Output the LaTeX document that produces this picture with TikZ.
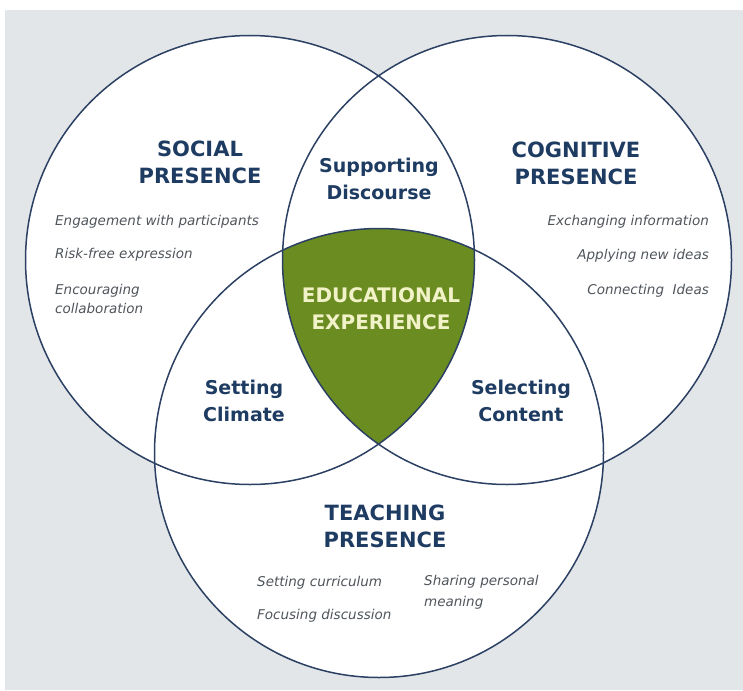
\documentclass[tikz,border=0pt]{standalone}
\usepackage{fontspec}
\setmainfont{DejaVu Sans}
\definecolor{panel}{HTML}{E3E6E9}
\definecolor{ring}{HTML}{2B4062}
\definecolor{navy}{HTML}{1E3B62}
\definecolor{olive}{HTML}{6B8C21}
\definecolor{cream}{HTML}{F2F2C8}
\definecolor{note}{HTML}{50555C}
\begin{document}
\begin{tikzpicture}[x=1pt,y=-1pt,
  heading/.style={font=\fontsize{21}{27}\selectfont\bfseries, text=navy, align=center, inner sep=0pt},
  overlap/.style={font=\fontsize{19}{27}\selectfont\bfseries, text=navy, align=center, inner sep=0pt},
  item/.style={font=\fontsize{13.5}{19}\selectfont\itshape, text=note, inner sep=0pt},
  ringline/.style={draw=ring, line width=1.5pt}]
  \useasboundingbox (0,0) rectangle (743,690);
  \fill[panel] (5,10) rectangle (743,690);

  % circle centres
  \coordinate (cs) at (250,260);
  \coordinate (cc) at (507,260);
  \coordinate (ct) at (379,453);
  \def\rad{224.5}

  % white discs
  \fill[white] (cs) circle[radius=\rad];
  \fill[white] (cc) circle[radius=\rad];
  \fill[white] (ct) circle[radius=\rad];

  % common region of all three circles
  \begin{scope}
    \clip (cs) circle[radius=\rad];
    \clip (cc) circle[radius=\rad];
    \fill[olive] (ct) circle[radius=\rad];
  \end{scope}

  % outlines
  \draw[ringline] (cs) circle[radius=\rad];
  \draw[ringline] (cc) circle[radius=\rad];
  \draw[ringline] (ct) circle[radius=\rad];

  % social presence
  \node[heading] (social) at (200,162) {SOCIAL\\PRESENCE};
  \node[item, anchor=west] (s1) at (55,222) {Engagement with participants};
  \node[item, anchor=west] (s2) at (55,255) {Risk-free expression};
  \node[item, anchor=west, align=left] (s3) at (55,299) {Encouraging\\collaboration};

  % cognitive presence
  \node[heading] (cognitive) at (576,163) {COGNITIVE\\PRESENCE};
  \node[item, anchor=east] (c1) at (709,222) {Exchanging information};
  \node[item, anchor=east] (c2) at (709,256) {Applying new ideas};
  \node[item, anchor=east] (c3) at (709,291) {Connecting\ \ Ideas};

  % teaching presence
  \node[heading] (teaching) at (385,526) {TEACHING\\PRESENCE};
  \node[item, anchor=west] (t1) at (257,583) {Setting curriculum};
  \node[item, anchor=west] (t2) at (257,616) {Focusing discussion};
  \node[item, anchor=west, align=left, font=\fontsize{13.5}{21}\selectfont\itshape] (t3) at (424,592) {Sharing personal\\meaning};

  % pairwise overlaps
  \node[overlap] (discourse) at (379,179) {Supporting\\Discourse};
  \node[overlap] (climate) at (244,401) {Setting\\Climate};
  \node[overlap] (content) at (521,401) {Selecting\\Content};

  % centre
  \node[heading, text=cream, font=\fontsize{20}{27}\selectfont\bfseries] (edu) at (381,309) {EDUCATIONAL\\EXPERIENCE};
\end{tikzpicture}
\end{document}
